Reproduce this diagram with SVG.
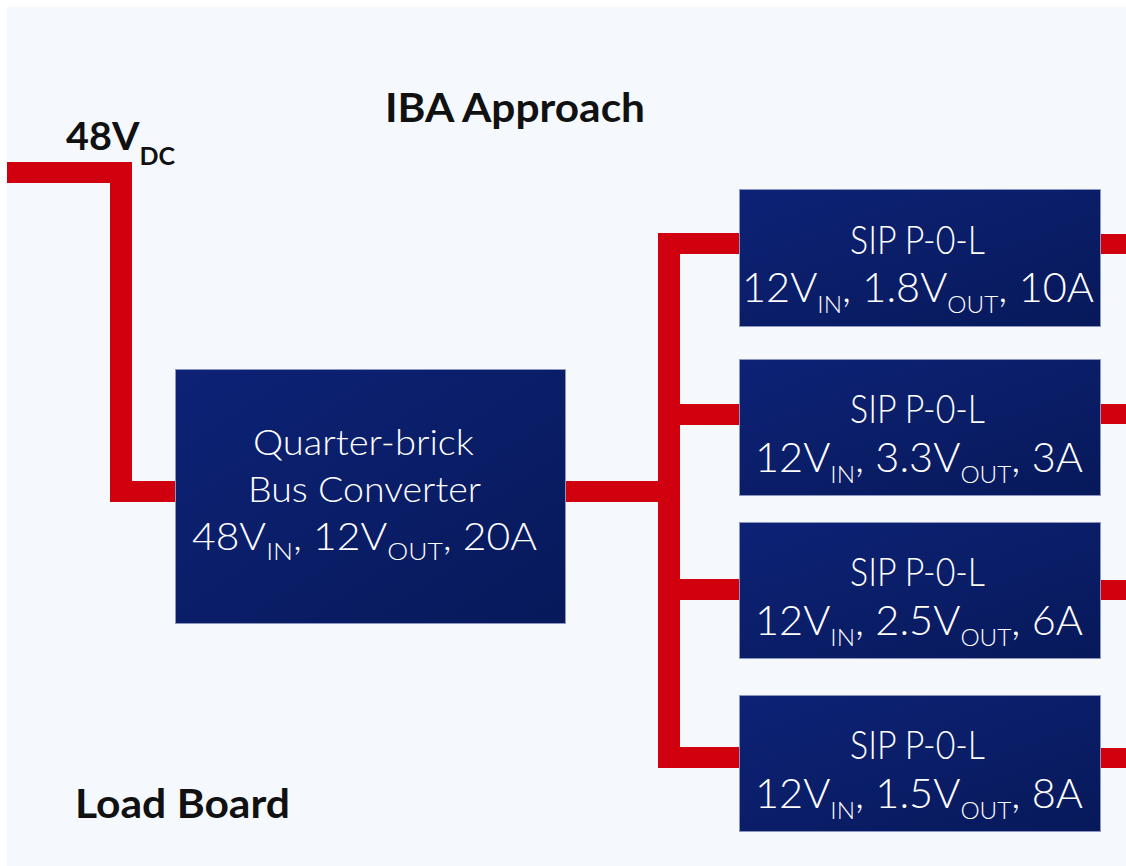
<svg xmlns="http://www.w3.org/2000/svg" width="1126" height="866" viewBox="0 0 1126 866">
<style>
.wire{fill:#d0000f}
.box{fill:url(#navy);stroke:#8c96c0;stroke-width:1}
.lbl{font-family:Lato,"Liberation Sans",sans-serif;font-weight:300;fill:#ffffff;text-anchor:middle}
.ttl{font-family:Lato,"Liberation Sans",sans-serif;font-weight:bold;fill:#111111}
.sub{font-size:24px}
</style>
<defs>
<linearGradient id="navy" x1="0" y1="0" x2="1" y2="1">
<stop offset="0" stop-color="#0d2276"/>
<stop offset="1" stop-color="#07195a"/>
</linearGradient>
</defs>
<rect x="0" y="0" width="1126" height="866" fill="#ffffff"/>
<rect x="7" y="7" width="1119" height="859" fill="#f5f9fd"/>
<g id="connectors">
<polygon class="wire" points="7,162 132,162 132,481 176,481 176,502 110,502 110,183 7,183"/>
<rect class="wire" x="564" y="481" width="105" height="21"/>
<rect class="wire" x="658" y="233" width="22" height="535"/>
<rect class="wire" x="658" y="233" width="82" height="21"/>
<rect class="wire" x="658" y="404" width="82" height="21"/>
<rect class="wire" x="658" y="579" width="82" height="21"/>
<rect class="wire" x="658" y="747" width="82" height="21"/>
<rect class="wire" x="1100" y="234" width="26" height="20"/>
<rect class="wire" x="1100" y="404" width="26" height="20"/>
<rect class="wire" x="1100" y="580" width="26" height="20"/>
<rect class="wire" x="1100" y="748" width="26" height="20"/>
</g>
<g id="title"><text class="ttl" x="385" y="122" font-size="40" textLength="260" lengthAdjust="spacingAndGlyphs">IBA Approach</text></g>
<g id="input"><text class="ttl" x="66" y="150" font-size="38" textLength="109" lengthAdjust="spacingAndGlyphs">48V<tspan font-size="24" dy="15">DC</tspan></text></g>
<g id="loadboard"><text class="ttl" x="75" y="818" font-size="40" textLength="215" lengthAdjust="spacingAndGlyphs">Load Board</text></g>
<g id="busconv">
<rect class="box" x="175.5" y="369.5" width="390" height="254"/>
<text class="lbl" x="363.5" y="455" font-size="35" textLength="221" lengthAdjust="spacingAndGlyphs">Quarter-brick</text>
<text class="lbl" x="364.5" y="502" font-size="35" textLength="233" lengthAdjust="spacingAndGlyphs">Bus Converter</text>
<text class="lbl" x="364.5" y="550" font-size="37" textLength="345" lengthAdjust="spacingAndGlyphs">48V<tspan class="sub" dy="10">IN</tspan><tspan dy="-10">, 12V</tspan><tspan class="sub" dy="10">OUT</tspan><tspan dy="-10">, 20A</tspan></text>
</g>
<g id="pol1">
<rect class="box" x="739.5" y="189.5" width="361" height="137"/>
<text class="lbl" x="917.5" y="254" font-size="39" textLength="135" lengthAdjust="spacingAndGlyphs">SIP P-0-L</text>
<text class="lbl" x="918" y="302" font-size="41" textLength="352" lengthAdjust="spacingAndGlyphs">12V<tspan class="sub" dy="11">IN</tspan><tspan dy="-11">, 1.8V</tspan><tspan class="sub" dy="11">OUT</tspan><tspan dy="-11">, 10A</tspan></text>
</g>
<g id="pol2">
<rect class="box" x="739.5" y="359.5" width="361" height="136"/>
<text class="lbl" x="917.5" y="423" font-size="39" textLength="135" lengthAdjust="spacingAndGlyphs">SIP P-0-L</text>
<text class="lbl" x="919" y="472" font-size="41" textLength="328" lengthAdjust="spacingAndGlyphs">12V<tspan class="sub" dy="11">IN</tspan><tspan dy="-11">, 3.3V</tspan><tspan class="sub" dy="11">OUT</tspan><tspan dy="-11">, 3A</tspan></text>
</g>
<g id="pol3">
<rect class="box" x="739.5" y="522.5" width="361" height="136"/>
<text class="lbl" x="917.5" y="586" font-size="39" textLength="135" lengthAdjust="spacingAndGlyphs">SIP P-0-L</text>
<text class="lbl" x="919" y="635" font-size="41" textLength="328" lengthAdjust="spacingAndGlyphs">12V<tspan class="sub" dy="11">IN</tspan><tspan dy="-11">, 2.5V</tspan><tspan class="sub" dy="11">OUT</tspan><tspan dy="-11">, 6A</tspan></text>
</g>
<g id="pol4">
<rect class="box" x="739.5" y="695.5" width="361" height="136"/>
<text class="lbl" x="917.5" y="759" font-size="39" textLength="135" lengthAdjust="spacingAndGlyphs">SIP P-0-L</text>
<text class="lbl" x="919" y="808" font-size="41" textLength="328" lengthAdjust="spacingAndGlyphs">12V<tspan class="sub" dy="11">IN</tspan><tspan dy="-11">, 1.5V</tspan><tspan class="sub" dy="11">OUT</tspan><tspan dy="-11">, 8A</tspan></text>
</g>
</svg>
